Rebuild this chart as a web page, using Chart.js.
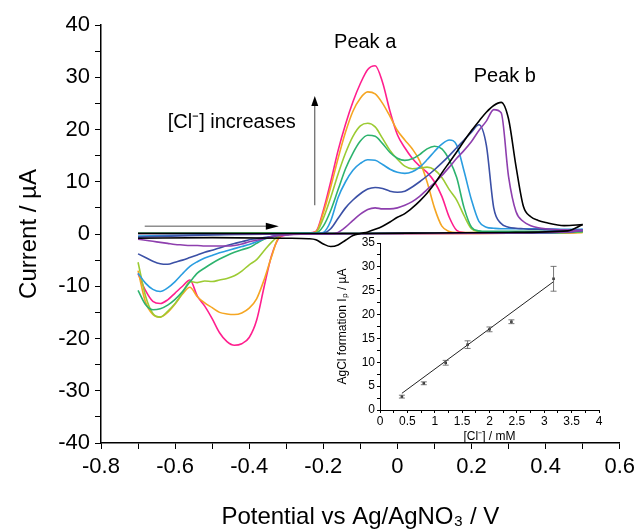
<!DOCTYPE html>
<html>
<head>
<meta charset="utf-8">
<script src="https://cdn.jsdelivr.net/npm/chart.js@4.4.0/dist/chart.umd.min.js"></script>
<style>
  html, body { margin: 0; padding: 0; background: #fff; }
  #wrap { position: relative; width: 640px; height: 532px; }
  #main { position: absolute; left: 0; top: 0; }
  #inset { position: absolute; left: 330px; top: 233px; }
</style>
</head>
<body>
<div id="wrap">
  <canvas id="main" width="640" height="532"></canvas>
  <canvas id="inset" width="280" height="215"></canvas>
</div>
<script>
// potential grids (V) for the forward (-0.7 -> 0.5) and reverse (0.5 -> -0.7) scans
const FWD_E = [-0.7, -0.5, -0.3, -0.24, -0.22, -0.2, -0.18, -0.16, -0.14, -0.12, -0.1, -0.08, -0.06, -0.04, -0.02, 0,
  0.02, 0.04, 0.06, 0.08, 0.1, 0.12, 0.14, 0.16, 0.18, 0.2, 0.22, 0.24, 0.26, 0.28, 0.3, 0.32, 0.34, 0.36, 0.38, 0.4, 0.45, 0.5];
const REV_E = [0.5, 0.46, 0.3, 0.1, -0.1, -0.2, -0.26, -0.28, -0.3, -0.32, -0.34, -0.36, -0.38, -0.4, -0.42, -0.44,
  -0.46, -0.48, -0.5, -0.52, -0.54, -0.56, -0.58, -0.6, -0.62, -0.64, -0.66, -0.68, -0.7];

// currents (uA), one forward and one reverse list per curve
const magentaFwd = [0.2, 0.2, 0.2, 0.2, 0.5, 4.5, 10, 16, 21, 25.3, 28.8, 31.5, 32.2, 29, 23.5, 19, 16.5, 14.5, 13, 11.8, 10, 7.2, 3.2, 0.7, 0.3, 0.2, 0.2, 0.2, 0.2, 0.2, 0.2, 0.2, 0.2, 0.2, 0.2, 0.2, 0.3, 0.4];
const magentaRev = [0.4, 0.2, 0.15, 0.1, 0.1, 0.1, 0.1, 0.05, -0.2, -0.8, -4.2, -10.2, -16.5, -19.8, -21, -21.3, -20.6, -18.9, -16.2, -13.8, -11.9, -8.8, -10, -11.3, -12.6, -13.3, -12.9, -10.8, -7.6];
const orangeFwd = [0.2, 0.2, 0.2, 0.2, 0.4, 4, 9, 14.5, 19.5, 23.5, 26, 27.2, 26.8, 25, 22.5, 19.8, 18, 16.3, 14, 10, 5, 1.5, 0.5, 0.3, 0.3, 0.3, 0.3, 0.3, 0.3, 0.3, 0.3, 0.3, 0.3, 0.3, 0.3, 0.3, 0.3, 0.3];
const orangeRev = [0.3, 0.2, 0.15, 0.1, 0.1, 0.1, 0.1, 0.05, -0.1, -0.6, -4.4, -8.8, -12.4, -14.2, -15.1, -15.4, -15.3, -15, -14.1, -13.2, -12, -10.2, -11.5, -13.4, -15, -15.9, -15.4, -13, -7];
const ygreenFwd = [0.2, 0.2, 0.2, 0.2, 0.3, 3, 7, 11.5, 15.5, 18.7, 20.7, 21.2, 20.5, 18.3, 16, 14.3, 13, 12.5, 12.6, 12.8, 12.3, 10.8, 8.5, 6.5, 3.5, 1, 0.5, 0.4, 0.4, 0.4, 0.4, 0.4, 0.4, 0.4, 0.4, 0.4, 0.4, 0.4];
const ygreenRev = [0.4, 0.3, 0.2, 0.15, 0.1, 0.1, 0.1, 0.05, -0.1, -0.4, -1.6, -3.2, -4.9, -5.9, -7.1, -8, -8.5, -8.8, -9.1, -9, -9.3, -9.1, -11.3, -13.3, -14.8, -15.9, -15.2, -11.8, -5.4];
const greenFwd = [0.2, 0.2, 0.2, 0.2, 0.2, 1.5, 4.5, 8.5, 12.5, 15.5, 17.8, 18.9, 18.7, 17.3, 15.6, 14.5, 14.1, 14.4, 15.2, 16.3, 16.8, 16.3, 14.2, 10.8, 5, 1.3, 0.6, 0.5, 0.5, 0.5, 0.5, 0.5, 0.5, 0.5, 0.5, 0.5, 0.5, 0.5];
const greenRev = [0.5, 0.3, 0.2, 0.15, 0.1, 0.1, 0.1, 0.05, -0.1, -0.2, -0.6, -1, -1.8, -2.6, -3, -3.5, -4.1, -4.8, -5.6, -6.5, -7.5, -9.2, -11, -12.5, -13.6, -14.3, -14.5, -13.5, -10.8];
const ltblueFwd = [-0.4, -0.1, 0.1, 0.1, 0.1, 0.3, 2.5, 7, 10, 12.2, 13.5, 14.2, 14.1, 13.3, 12.4, 11.8, 11.6, 11.9, 12.8, 14.2, 15.8, 17.2, 18, 17, 12, 6.5, 2.4, 1.3, 1.1, 1, 1, 1, 1, 1, 1, 1, 0.9, 0.9];
const ltblueRev = [0.9, 0.4, 0.2, 0.15, 0.1, 0.1, 0.1, 0.05, -0.1, -0.2, -0.5, -0.9, -1.5, -2, -2.4, -2.8, -3.2, -3.6, -4.1, -4.6, -5.3, -6.2, -7.6, -9.1, -10.3, -11, -10.6, -9.4, -7.5];
const dkblueFwd = [-0.6, -0.2, 0, 0, 0, 0.1, 1, 3, 5, 6.5, 7.7, 8.6, 8.9, 8.7, 8.2, 8, 8.2, 9, 10, 11.1, 12.3, 13.6, 15, 16.5, 18, 19.5, 20.9, 17, 5, 2, 1.3, 1.1, 1, 0.9, 0.9, 0.8, 0.7, 0.7];
const dkblueRev = [0.7, 0.4, 0.2, 0.15, 0.1, 0.1, 0.05, 0, -0.1, -0.3, -0.5, -0.7, -0.9, -1.1, -1.5, -1.8, -2.2, -2.7, -3.1, -3.5, -4, -4.5, -5, -5.4, -5.8, -5.7, -5.2, -4.5, -3.8];
const purpleFwd = [0.1, 0.1, 0, 0, 0, 0, 0, 0.3, 1.3, 2.6, 3.8, 4.7, 5, 4.8, 4.8, 5, 5.5, 6.2, 7.2, 8.5, 9.8, 11.2, 12.8, 14.5, 16, 17.7, 19.8, 21.6, 23.8, 23.2, 11, 4.3, 2.4, 1.6, 1.2, 1, 0.8, 0.7];
const purpleRev = [0.7, 0.4, 0.2, 0.1, 0.05, 0, -0.05, -0.1, -0.2, -0.3, -0.5, -0.9, -1.2, -1.5, -1.9, -2.2, -2.3, -2.3, -2.3, -2.3, -2.2, -2.2, -2.1, -2, -1.8, -1.6, -1.4, -1.2, -1];
const blackFwd = [-0.8, -0.7, -0.8, -0.9, -1.1, -1.9, -2.4, -2.1, -1.2, -0.3, 0.1, 0.4, 0.9, 1.5, 2.3, 3.2, 3.9, 5, 6.3, 7.8, 9.6, 11.7, 13.7, 15.7, 17.8, 19.8, 21.6, 23.3, 24.6, 25.2, 22, 13, 5.3, 3.3, 2.6, 2.2, 1.6, 1.8];
const blackRev = [1.8, 0.6, 0.3, 0.2, 0.1, 0.1, 0.1, 0.1, 0.1, 0.1, 0.1, 0.1, 0.1, 0.1, 0.1, 0.1, 0.1, 0.1, 0.1, 0.1, 0.1, 0.1, 0.1, 0.1, 0.1, 0.1, 0.1, 0.1, 0.1];

// inset: AgCl formation peak current vs chloride concentration
const CL_MM = [0.4, 0.8, 1.2, 1.6, 2.0, 2.4, 3.17];
const IP_UA = [2.8, 5.6, 9.9, 13.7, 16.9, 18.5, 27.5];
const IP_ERR = [0.3, 0.3, 0.5, 0.8, 0.5, 0.4, 2.6];
const FIT_X = [0.4, 3.17];
const FIT_Y = [3.5, 26.9];

const FONT = "'Liberation Sans', Arial, sans-serif";
Chart.defaults.font.family = FONT;
Chart.defaults.color = '#000';

const curves = [
  { color: '#000000', fwd: blackFwd, rev: blackRev },
  { color: '#8e3fae', fwd: purpleFwd, rev: purpleRev },
  { color: '#3b50a6', fwd: dkblueFwd, rev: dkblueRev },
  { color: '#2a9de0', fwd: ltblueFwd, rev: ltblueRev },
  { color: '#2db36e', fwd: greenFwd, rev: greenRev },
  { color: '#9ccb33', fwd: ygreenFwd, rev: ygreenRev },
  { color: '#f5a623', fwd: orangeFwd, rev: orangeRev },
  { color: '#ff1f8e', fwd: magentaFwd, rev: magentaRev }
];

const toPts = (xs, ys) => xs.map((x, i) => ({ x: x, y: ys[i] }));

const datasets = [];
curves.forEach(c => {
  [toPts(FWD_E, c.fwd), toPts(REV_E, c.rev)].forEach(pts => {
    datasets.push({
      data: pts,
      showLine: true,
      borderColor: c.color,
      borderWidth: 1.6,
      pointRadius: 0,
      cubicInterpolationMode: 'monotone'
    });
  });
});

function arrowHead(ctx, x, y, dir, len, half) {
  ctx.beginPath();
  if (dir === 'up') {
    ctx.moveTo(x, y); ctx.lineTo(x - half, y + len); ctx.lineTo(x + half, y + len);
  } else {
    ctx.moveTo(x, y); ctx.lineTo(x - len, y - half); ctx.lineTo(x - len, y + half);
  }
  ctx.closePath();
  ctx.fill();
}

const annotations = {
  id: 'annotations',
  afterDatasetsDraw(chart) {
    const { ctx, scales: { x, y } } = chart;
    ctx.save();
    ctx.fillStyle = '#000';
    ctx.font = '20px ' + FONT;
    ctx.textAlign = 'center';
    ctx.textBaseline = 'middle';
    ctx.fillText('Peak a', x.getPixelForValue(-0.087), y.getPixelForValue(36.6));
    ctx.fillText('Peak b', x.getPixelForValue(0.29), y.getPixelForValue(30.2));
    ctx.fillText('[Cl\u207B] increases', x.getPixelForValue(-0.447), y.getPixelForValue(21.4));

    // vertical arrow
    const vx = x.getPixelForValue(-0.223);
    const vTop = y.getPixelForValue(26.4);
    ctx.strokeStyle = '#444';
    ctx.lineWidth = 1;
    ctx.beginPath();
    ctx.moveTo(vx, y.getPixelForValue(5.5));
    ctx.lineTo(vx, vTop + 8);
    ctx.stroke();
    arrowHead(ctx, vx, vTop, 'up', 10, 3.5);

    // horizontal arrow
    const hy = y.getPixelForValue(1.5);
    const hEnd = x.getPixelForValue(-0.32);
    ctx.strokeStyle = '#555';
    ctx.beginPath();
    ctx.moveTo(x.getPixelForValue(-0.682), hy);
    ctx.lineTo(hEnd - 10, hy);
    ctx.stroke();
    arrowHead(ctx, hEnd, hy, 'right', 13, 3.5);
    ctx.restore();
  }
};

new Chart(document.getElementById('main'), {
  type: 'scatter',
  data: { datasets: datasets },
  options: {
    responsive: false,
    animation: false,
    layout: { padding: { left: 0, right: 17, top: 25, bottom: 0 } },
    plugins: { legend: { display: false }, tooltip: { enabled: false } },
    scales: {
      x: {
        type: 'linear', min: -0.8, max: 0.6,
        afterFit: s => { s.height = 89; },
        ticks: {
          stepSize: 0.1, autoSkip: false, maxRotation: 0, padding: 5,
          font: { size: 22 }, color: '#000',
          callback: v => (Math.round(v * 10) % 2 === 0 ? String(Math.round(v * 10) / 10) : '')
        },
        grid: { drawOnChartArea: false, drawTicks: true, tickLength: 6, color: '#000', tickWidth: 1 },
        border: { display: true, color: '#000', width: 1.5 },
        title: { display: true, text: 'Potential vs Ag/AgNO\u2083 / V', font: { size: 24 }, color: '#000', padding: { top: 0, bottom: 0 } }
      },
      y: {
        type: 'linear', min: -40, max: 40,
        afterFit: s => { s.width = 101; },
        ticks: {
          stepSize: 5, autoSkip: false, padding: 5,
          font: { size: 22 }, color: '#000',
          callback: v => (v % 10 === 0 ? String(v) : '')
        },
        grid: { drawOnChartArea: false, drawTicks: true, tickLength: 6, color: '#000', tickWidth: 1 },
        border: { display: true, color: '#000', width: 1.5 },
        title: { display: true, text: 'Current / \u00B5A', font: { size: 24 }, color: '#000', padding: { top: 15, bottom: 0 } }
      }
    }
  },
  plugins: [annotations]
});

const errorBars = {
  id: 'errorBars',
  afterDatasetsDraw(chart) {
    const { ctx, scales: { x, y } } = chart;
    ctx.save();
    ctx.strokeStyle = '#555';
    ctx.lineWidth = 0.8;
    CL_MM.forEach((c, i) => {
      const px = x.getPixelForValue(c);
      const top = y.getPixelForValue(IP_UA[i] + IP_ERR[i]);
      const bot = y.getPixelForValue(IP_UA[i] - IP_ERR[i]);
      ctx.beginPath();
      ctx.moveTo(px, top); ctx.lineTo(px, bot);
      ctx.moveTo(px - 3, top); ctx.lineTo(px + 3, top);
      ctx.moveTo(px - 3, bot); ctx.lineTo(px + 3, bot);
      ctx.stroke();
    });
    ctx.restore();
  }
};

new Chart(document.getElementById('inset'), {
  type: 'scatter',
  data: {
    datasets: [
      { data: toPts(FIT_X, FIT_Y), showLine: true, borderColor: '#222', borderWidth: 1, pointRadius: 0 },
      { data: toPts(CL_MM, IP_UA), pointStyle: 'rect', pointRadius: 1.8, backgroundColor: '#333', borderColor: '#333', borderWidth: 0 }
    ]
  },
  options: {
    responsive: false,
    animation: false,
    layout: { padding: { left: 0, right: 11, top: 10, bottom: 0 } },
    plugins: { legend: { display: false }, tooltip: { enabled: false } },
    scales: {
      x: {
        type: 'linear', min: 0, max: 4,
        afterFit: s => { s.height = 38; },
        ticks: {
          stepSize: 0.25, autoSkip: false, maxRotation: 0, padding: 1,
          font: { size: 12 }, color: '#000',
          callback: v => (Math.round(v * 4) % 2 === 0 ? String(v) : '')
        },
        grid: { drawOnChartArea: false, drawTicks: true, tickLength: 3, color: '#000' },
        border: { display: true, color: '#000', width: 1 },
        title: { display: true, text: '[Cl\u207B] / mM', font: { size: 12 }, color: '#000', padding: { top: 0, bottom: 4 } }
      },
      y: {
        type: 'linear', min: 0, max: 35,
        afterFit: s => { s.width = 50; },
        ticks: {
          stepSize: 2.5, autoSkip: false, padding: 2,
          font: { size: 12 }, color: '#000',
          callback: v => (v % 5 === 0 ? String(v) : '')
        },
        grid: { drawOnChartArea: false, drawTicks: true, tickLength: 3, color: '#000' },
        border: { display: true, color: '#000', width: 1 },
        title: { display: true, text: 'AgCl formation I\u209A / \u00B5A', font: { size: 12 }, color: '#000', padding: { top: 5, bottom: 0 } }
      }
    }
  },
  plugins: [errorBars]
});
</script>
</body>
</html>
